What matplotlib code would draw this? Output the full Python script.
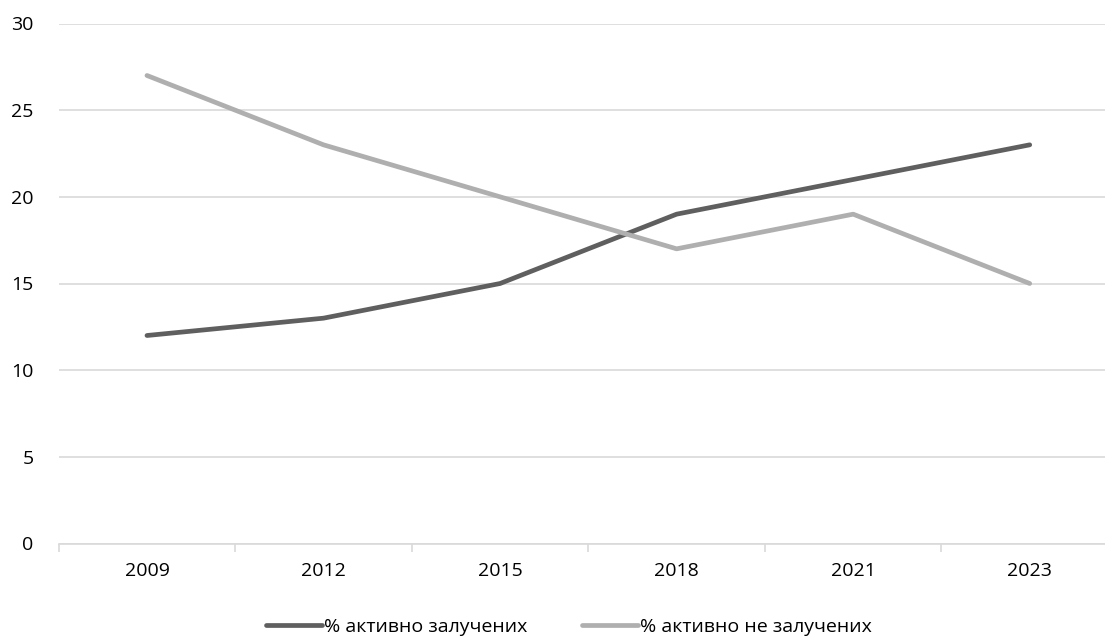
import matplotlib as mpl
mpl.rcParams['font.family'] = ['Open Sans', 'DejaVu Sans']
import numpy as np
import matplotlib.pyplot as plt

years = ['2009', '2012', '2015', '2018', '2021', '2023']
aktyvno = [12, 13, 15, 19, 21, 23]
ne_aktyvno = [27, 23, 20, 17, 19, 15]
yticks = [0, 5, 10, 15, 20, 25, 30]

fig = plt.figure(figsize=(11.05, 6.39), dpi=100)
ax = fig.add_axes([58.7/1105, 1-543.5/639, (1118-58.7)/1105, (543.5-23.5)/639])

x = np.arange(len(years))
ax.plot(x, aktyvno, color='#5f5f5f', lw=3.4, solid_capstyle='round', label='% активно залучених', zorder=3)
ax.plot(x, ne_aktyvno, color='#afafaf', lw=3.4, solid_capstyle='round', label='% активно не залучених', zorder=3)

ax.set_xlim(-0.5, len(years)-0.5)
ax.set_ylim(0, 30)
ax.set_yticks(yticks)
ax.yaxis.grid(True, color='#d9d9d9', lw=1.2)
ax.set_axisbelow(True)
for s in ['top', 'right', 'left']:
    ax.spines[s].set_visible(False)
ax.spines['bottom'].set_color('#d9d9d9')
ax.spines['bottom'].set_linewidth(1.2)

ax.set_xticks(x)
ax.set_xticklabels(years)
ax.set_xticks(np.arange(-0.5, len(years)), minor=True)
ax.tick_params(axis='x', which='major', length=0, pad=13, labelsize=14)
ax.tick_params(axis='x', which='minor', length=6, color='#d9d9d9', width=1.2)
ax.tick_params(axis='y', length=0, pad=18, labelsize=14)

leg = fig.legend(loc='center', bbox_to_anchor=(0.515, 1-627/639), ncol=2, frameon=False,
                 fontsize=14, handlelength=2.9, handletextpad=0.1, columnspacing=2.8)

plt.savefig('out.png', dpi=100)
